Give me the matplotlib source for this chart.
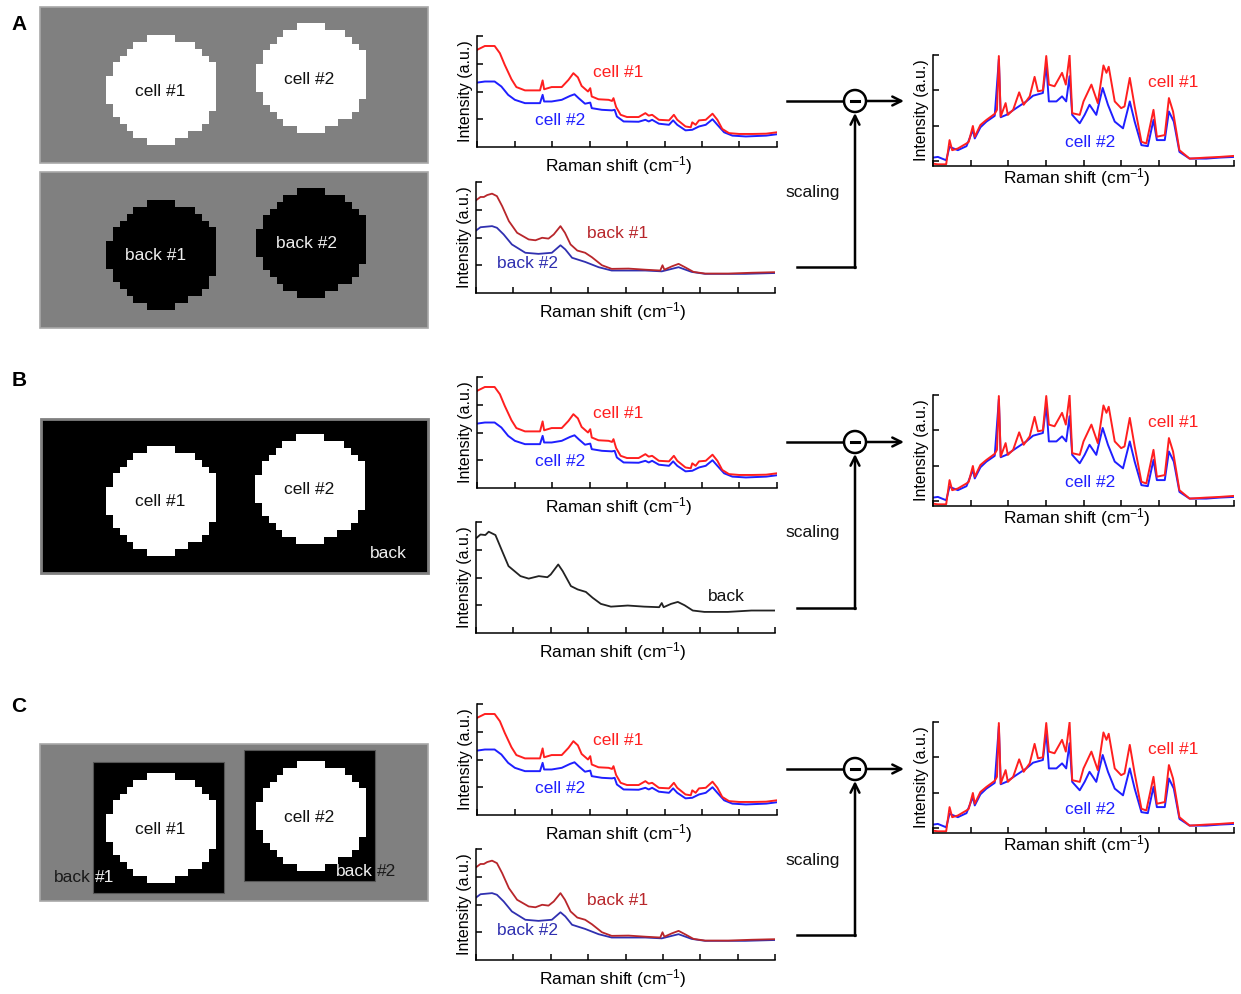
import numpy as np
import matplotlib.pyplot as plt
import matplotlib.patches as patches

plt.rcParams['font.family'] = ['Liberation Sans', 'DejaVu Sans']
plt.rcParams['mathtext.default'] = 'regular'

W, H = 1241, 994

# ---------------- spectra ----------------
# raw cell spectra (x: 0..8, y: 0..4)
cell1_x = [0, 0.21, 0.47, 0.61, 0.74, 0.92, 1.05, 1.28, 1.68, 1.75, 1.79, 1.99, 2.26, 2.44, 2.57, 2.69,
           2.79, 2.96, 3.02, 3.06, 3.24, 3.51, 3.60, 3.64, 3.71, 3.83, 4.0, 4.31, 4.49, 4.58, 4.67, 4.85,
           5.12, 5.25, 5.34, 5.56, 5.70, 5.74, 5.83, 5.92, 6.10, 6.28, 6.41, 6.54, 6.72, 6.99, 7.35, 7.71, 8.0]
cell1_y = [3.50, 3.64, 3.64, 3.38, 2.96, 2.44, 2.16, 2.04, 2.04, 2.40, 2.08, 2.16, 2.16, 2.42, 2.66, 2.51,
           2.20, 2.00, 2.12, 1.82, 1.72, 1.70, 1.66, 1.76, 1.44, 1.16, 1.08, 1.08, 1.22, 1.13, 1.16, 0.98,
           0.96, 1.16, 0.98, 0.74, 0.71, 0.89, 0.80, 0.96, 0.98, 1.20, 0.98, 0.65, 0.50, 0.47, 0.47, 0.48, 0.53]

cell2_x = [0, 0.21, 0.47, 0.65, 0.83, 1.01, 1.28, 1.68, 1.75, 1.79, 1.99, 2.26, 2.48, 2.60, 2.71, 2.88,
           3.02, 3.06, 3.33, 3.60, 3.67, 3.73, 3.91, 4.31, 4.49, 4.58, 4.67, 4.85, 5.12, 5.23, 5.34, 5.56,
           5.74, 5.92, 6.10, 6.28, 6.41, 6.59, 6.81, 7.17, 7.71, 8.0]
cell2_y = [2.32, 2.36, 2.36, 2.18, 1.88, 1.70, 1.58, 1.58, 1.88, 1.64, 1.64, 1.70, 1.84, 1.90, 1.76, 1.56,
           1.60, 1.40, 1.34, 1.32, 1.34, 1.10, 0.92, 0.91, 0.98, 0.92, 0.98, 0.84, 0.80, 0.96, 0.80, 0.60,
           0.62, 0.74, 0.80, 1.00, 0.80, 0.53, 0.41, 0.38, 0.41, 0.46]

# background spectra
back1_x = [0, 0.12, 0.21, 0.30, 0.43, 0.56, 0.70, 0.88, 1.10, 1.41, 1.59, 1.77, 1.94, 2.08, 2.26, 2.38,
           2.53, 2.71, 2.92, 3.10, 3.37, 3.63, 4.08, 4.53, 4.93, 4.99, 5.04, 5.24, 5.42, 5.59, 5.82, 6.13,
           6.75, 7.38, 8.0]
back1_y = [3.34, 3.46, 3.46, 3.53, 3.58, 3.49, 3.13, 2.59, 2.17, 1.93, 1.90, 1.99, 1.96, 2.11, 2.41, 2.17,
           1.75, 1.53, 1.45, 1.29, 1.00, 0.87, 0.88, 0.84, 0.81, 1.00, 0.84, 0.96, 1.05, 0.93, 0.76, 0.70,
           0.70, 0.73, 0.75]

back2_x = [0, 0.12, 0.43, 0.56, 0.74, 0.96, 1.32, 1.67, 2.03, 2.26, 2.39, 2.57, 2.92, 3.28, 3.63, 4.53,
           4.97, 5.42, 5.77, 6.13, 7.20, 8.0]
back2_y = [2.25, 2.37, 2.41, 2.35, 2.11, 1.75, 1.45, 1.41, 1.45, 1.72, 1.57, 1.27, 1.12, 0.93, 0.81, 0.81,
           0.78, 0.93, 0.76, 0.69, 0.69, 0.72]

back_x = [0, 0.12, 0.25, 0.34, 0.52, 0.70, 0.87, 1.19, 1.41, 1.68, 1.91, 2.00, 2.20, 2.32, 2.54, 2.72,
          2.94, 3.12, 3.34, 3.61, 4.06, 4.50, 4.90, 4.97, 5.02, 5.22, 5.40, 5.58, 5.80, 6.11, 6.74, 7.37, 8.0]
back_y = [3.41, 3.55, 3.53, 3.65, 3.53, 2.95, 2.41, 2.05, 1.96, 2.05, 2.01, 2.11, 2.47, 2.23, 1.69, 1.57,
          1.48, 1.27, 1.05, 0.95, 0.99, 0.95, 0.93, 1.08, 0.93, 1.05, 1.12, 1.00, 0.81, 0.76, 0.76, 0.81, 0.81]

# background-subtracted spectra (x: 0..8, y: 0..3.3)
diff1_x = [0, 0.13, 0.35, 0.44, 0.51, 0.66, 0.89, 0.95, 1.06, 1.11, 1.26, 1.42, 1.64, 1.70, 1.75, 1.80,
           1.93, 1.99, 2.13, 2.29, 2.41, 2.57, 2.70, 2.79, 2.92, 3.01, 3.08, 3.23, 3.43, 3.53, 3.63, 3.70,
           3.90, 4.00, 4.21, 4.38, 4.53, 4.61, 4.67, 4.83, 5.00, 5.09, 5.23, 5.36, 5.54, 5.67, 5.86, 5.95,
           6.16, 6.27, 6.38, 6.55, 6.82, 7.26, 7.62, 8.0]
diff1_y = [0.07, 0.05, 0.05, 0.77, 0.47, 0.52, 0.67, 0.72, 1.19, 0.87, 1.22, 1.37, 1.55, 1.67, 3.27, 1.47,
           1.87, 1.52, 1.67, 2.19, 1.82, 2.07, 2.65, 2.22, 2.25, 3.27, 2.42, 2.37, 2.77, 2.42, 3.29, 1.57,
           1.52, 1.92, 2.42, 1.87, 2.99, 2.77, 2.95, 1.92, 1.72, 1.77, 2.62, 1.77, 0.72, 0.67, 1.67, 0.87,
           0.92, 2.02, 1.62, 0.47, 0.22, 0.25, 0.27, 0.30]

diff2_x = [0, 0.13, 0.35, 0.44, 0.66, 0.89, 1.06, 1.11, 1.26, 1.42, 1.64, 1.75, 1.80, 1.95, 2.21, 2.48,
           2.66, 2.92, 3.01, 3.08, 3.28, 3.43, 3.54, 3.63, 3.70, 3.90, 4.03, 4.16, 4.34, 4.51, 4.65, 4.83,
           5.05, 5.23, 5.36, 5.54, 5.71, 5.86, 5.95, 6.16, 6.27, 6.40, 6.55, 6.82, 7.26, 7.62, 8.0]
diff2_y = [0.25, 0.27, 0.17, 0.57, 0.47, 0.59, 1.07, 0.82, 1.15, 1.32, 1.49, 3.17, 1.45, 1.52, 1.72, 1.92,
           2.09, 2.17, 3.02, 1.92, 1.92, 2.07, 1.92, 2.67, 1.52, 1.27, 1.52, 1.82, 1.52, 2.32, 1.82, 1.32,
           1.12, 1.92, 1.32, 0.62, 0.59, 1.37, 0.77, 0.77, 1.62, 1.32, 0.42, 0.22, 0.22, 0.25, 0.27]

# pixelated cell outline: (first, last+1) block of each block row on a 16x16 grid
cell_rows = [(6, 10), (4, 13), (3, 14), (2, 15), (1, 16), (1, 16), (0, 16), (0, 16),
             (0, 16), (0, 16), (1, 16), (1, 15), (2, 15), (3, 14), (4, 12), (6, 10)]

RED = '#ff1f1f'
BLUE = '#1f1fff'
DRED = '#b8262b'
DBLUE = '#3030b0'
GRAY = '#808080'

fig = plt.figure(figsize=(W / 100, H / 100), dpi=100)
ov = fig.add_axes([0, 0, 1, 1])
ov.set_xlim(0, W)
ov.set_ylim(H, 0)
ov.axis('off')


def cell_blob(cx, cy, color):
    n = 16
    rgba = np.zeros((n, n, 4))
    c = np.array(plt.matplotlib.colors.to_rgb(color))
    for r, (a, b) in enumerate(cell_rows):
        rgba[r, a:b, :3] = c
        rgba[r, a:b, 3] = 1
    ov.imshow(rgba, extent=(cx - 55, cx + 55, cy + 55, cy - 55), interpolation='nearest',
              aspect='auto', zorder=3)


def box(x0, y0, x1, y1, fc, ec='#a8a8a8', lw=1.2, z=1):
    ov.add_patch(patches.Rectangle((x0, y0), x1 - x0, y1 - y0, fc=fc, ec=ec, lw=lw, zorder=z))


def label(x, y, s, color='#111111', size=12.5, **kw):
    ov.text(x, y, s, color=color, fontsize=size, ha='center', va='center', zorder=5, **kw)


# ---------------- images ----------------
# A
box(40, 7, 428, 163, GRAY)
cell_blob(161, 90, 'white')
cell_blob(311, 78, 'white')
label(160, 91, 'cell #1')
label(309, 79, 'cell #2')
box(40, 172, 428, 328, GRAY)
cell_blob(161, 255, 'black')
cell_blob(311, 243, 'black')
label(156, 255, 'back #1', color='#eeeeee')
label(307, 243, 'back #2', color='#eeeeee')

# B
box(41, 419, 428, 573, 'black', ec=GRAY, lw=2)
cell_blob(161, 501, 'white')
cell_blob(310, 489, 'white')
label(160, 502, 'cell #1')
label(309, 490, 'cell #2')
label(388, 553, 'back', color='#eeeeee')

# C
box(40, 744, 428, 901, GRAY)
box(93, 762, 224, 893, 'black', ec='#555555', lw=0.8, z=2)
box(244, 750, 375, 881, 'black', ec='#555555', lw=0.8, z=2)
cell_blob(161, 828, 'white')
cell_blob(311, 816, 'white')
label(160, 829, 'cell #1')
label(309, 817, 'cell #2')
label(72, 878, 'back', color='#1a1a1a')
label(105, 878, '#1', color='#eeeeee')
label(354, 871, 'back', color='#eeeeee')
label(387, 871, '#2', color='#1a1a1a')

# panel letters
for s, yy in [('A', 24), ('B', 380), ('C', 706)]:
    ov.text(19, yy, s, fontsize=15, fontweight='bold', ha='center', va='center')

# ---------------- subtraction flow ----------------
for y_top, y_bot in [(101, 267), (442, 608), (769, 935)]:
    ov.plot([787, 843], [y_top, y_top], color='black', lw=1.8, zorder=2)
    ov.plot([797, 855], [y_bot, y_bot], color='black', lw=1.8, zorder=2)
    ov.annotate('', xy=(855, y_top + 12), xytext=(855, y_bot + 1),
                arrowprops=dict(arrowstyle='->', lw=1.8, color='black', mutation_scale=16,
                                shrinkA=0, shrinkB=0))
    ov.annotate('', xy=(904, y_top), xytext=(867, y_top),
                arrowprops=dict(arrowstyle='->', lw=1.8, color='black', mutation_scale=16,
                                shrinkA=0, shrinkB=0))
    ov.add_patch(patches.Circle((855, y_top), 11, fc='white', ec='black', lw=1.8, zorder=3))
    ov.plot([851, 859], [y_top, y_top], color='black', lw=2.2, zorder=4)
    label(813, (y_top + y_bot) / 2 + 8, 'scaling')


# ---------------- spectra axes ----------------
def spec_axes(x0, y0, x1, y1, ymax, yticks, lab_x, lab_top):
    ax = fig.add_axes([x0 / W, 1 - y1 / H, (x1 - x0) / W, (y1 - y0) / H])
    ax.set_xlim(0, 8)
    ax.set_ylim(0, ymax)
    ax.set_xticks(range(9))
    ax.set_yticks(yticks)
    ax.tick_params(direction='in', length=4, width=1.1, labelbottom=False, labelleft=False)
    ax.spines['top'].set_visible(False)
    ax.spines['right'].set_visible(False)
    for sp in ('left', 'bottom'):
        ax.spines[sp].set_linewidth(1.1)
    ax.patch.set_alpha(0)
    ax.set_xlabel('Raman shift (cm$^{-1}$)', fontsize=12.5)
    ax.xaxis.set_label_coords((lab_x - x0) / (x1 - x0), -(lab_top - y1) / (y1 - y0))
    ax.set_ylabel('Intensity (a.u.)', fontsize=11.5, labelpad=3)
    return ax


rows = [(36, 182, 55, 'pair'), (377, 522, 395, 'single'), (704, 849, 722, 'pair')]
for top_y, bot_y, right_y, kind in rows:
    ax = spec_axes(477, top_y, 777, top_y + 111, 4, [1, 2, 3, 4], 619, top_y + 118)
    ax.plot(cell2_x, cell2_y, color=BLUE, lw=1.4)
    ax.plot(cell1_x, cell1_y, color=RED, lw=1.4)
    ax.text(3.76, 2.70, 'cell #1', color=RED, fontsize=12.5, ha='center', va='center')
    ax.text(2.21, 0.97, 'cell #2', color=BLUE, fontsize=12.5, ha='center', va='center')

    ax = spec_axes(476, bot_y, 775, bot_y + 111, 4, [1, 2, 3, 4], 613, bot_y + 118)
    if kind == 'pair':
        ax.plot(back2_x, back2_y, color=DBLUE, lw=1.3)
        ax.plot(back1_x, back1_y, color=DRED, lw=1.3)
        ax.text(3.80, 2.13, 'back #1', color=DRED, fontsize=12.5, ha='center', va='center')
        ax.text(1.39, 1.08, 'back #2', color=DBLUE, fontsize=12.5, ha='center', va='center')
    else:
        ax.plot(back_x, back_y, color='#222222', lw=1.3)
        ax.text(6.71, 1.30, 'back', color='#111111', fontsize=12.5, ha='center', va='center')

    ax = spec_axes(933, right_y, 1234, right_y + 111, 3.3, [0.15, 1.2, 2.25, 3.3], 1077, right_y + 111)
    ax.plot(diff2_x, diff2_y, color=BLUE, lw=1.4)
    ax.plot(diff1_x, diff1_y, color=RED, lw=1.4)
    ax.text(6.38, 2.47, 'cell #1', color=RED, fontsize=12.5, ha='center', va='center')
    ax.text(4.18, 0.71, 'cell #2', color=BLUE, fontsize=12.5, ha='center', va='center')

fig.savefig('out.png', dpi=100, facecolor='white')
